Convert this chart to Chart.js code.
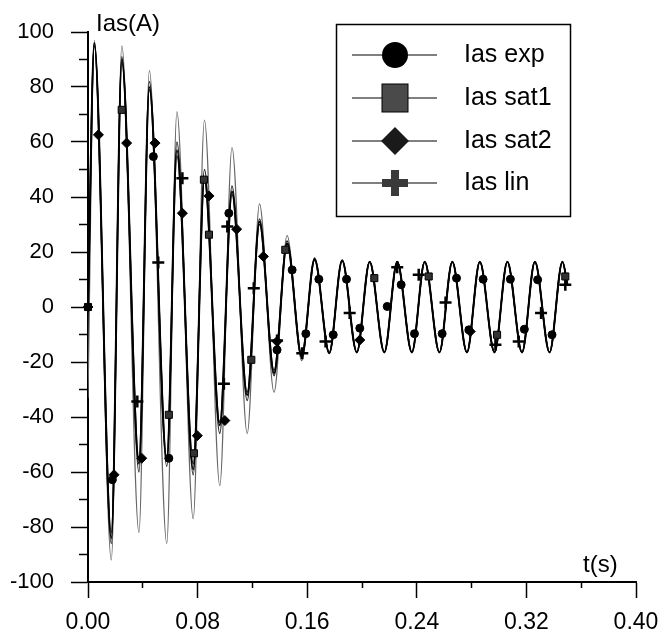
<!DOCTYPE html>
<html>
<head>
<meta charset="utf-8">
<title>Ias(A)</title>
<script src="https://cdn.jsdelivr.net/npm/chart.js@4.4.1/dist/chart.umd.min.js"></script>
<style>
  html, body { margin: 0; padding: 0; background: #fff; }
  #wrap { width: 661px; height: 635px; }
</style>
</head>
<body>
<div id="wrap"><canvas id="iasChart" width="661" height="635"></canvas></div>
<script>
// turning points of the traces (s), start, peaks and troughs, end
const tCurve = [0, 0.0046, 0.0170, 0.0247, 0.0372, 0.0448, 0.0575, 0.0649, 0.0768, 0.0850,
  0.0962, 0.1051, 0.1162, 0.1252, 0.1358, 0.1453, 0.1560, 0.1654, 0.1761, 0.1855,
  0.1962, 0.2056, 0.2163, 0.2257, 0.2364, 0.2458, 0.2565, 0.2659, 0.2766, 0.2860,
  0.2967, 0.3061, 0.3168, 0.3262, 0.3369, 0.3463, 0.3500];

const iasExp  = [0, 96, -84, 90, -57, 80, -56, 57, -59, 47, -43, 42, -32, 31, -24, 23, -18, 17.5, -16.8, 17,
  -16.5, 16.5, -16.5, 16.5, -16.5, 16.5, -16.5, 16.5, -16.5, 16.5, -16.5, 16.5, -16.5, 16.5, -16.5, 16.5, 8];
const iasSat1 = [0, 96, -86, 91, -60, 82, -58, 60, -61, 50, -46, 44, -34, 32, -25, 24, -18.5, 17.5, -16.8, 17,
  -16.5, 16.5, -16.5, 16.5, -16.5, 16.5, -16.5, 16.5, -16.5, 16.5, -16.5, 16.5, -16.5, 16.5, -16.5, 16.5, 8];
const iasSat2 = [0, 95, -82, 89, -55, 79, -55, 55, -57, 46, -42, 41, -31, 30, -23, 23, -17.5, 17, -16.5, 16.8,
  -16.5, 16.5, -16.5, 16.5, -16.5, 16.5, -16.5, 16.5, -16.5, 16.5, -16.5, 16.5, -16.5, 16.5, -16.5, 16.5, 8];
const iasLin  = [-33, 97, -92, 95, -82, 86, -86, 71, -77, 68, -65, 58, -46, 37.5, -31, 26, -19.5, 18, -17, 17,
  -16.5, 16.5, -16.5, 16.5, -16.5, 16.5, -16.5, 16.5, -16.5, 16.5, -16.5, 16.5, -16.5, 16.5, -16.5, 16.5, 8];

// symbols
const expMarkT = [0, 0.0178, 0.0477, 0.0590, 0.1028, 0.1380, 0.1490, 0.1590, 0.1685, 0.1790, 0.1887, 0.1984,
  0.2184, 0.2286, 0.2383, 0.2585, 0.2690, 0.2780, 0.2884, 0.3083, 0.3185, 0.3282, 0.3387];
const expMarkV = [0, -62.8, 54.7, -55, 34.1, -15.6, 13.5, -9.7, 10.1, -10.1, 10.1, -7.7,
  0.2, 8.1, -9.7, -9.7, 10.5, -8.3, 10.1, 10.1, -8.1, 9.9, -10.1];
const sat1MarkT = [0, 0.0246, 0.0590, 0.0773, 0.0846, 0.0883, 0.1192, 0.1440, 0.2090, 0.2487, 0.2986, 0.3484];
const sat1MarkV = [0, 71.7, -39.2, -53.2, 46.3, 26.3, -19.2, 20.8, 10.5, 11.1, -10.1, 11.1];
const sat2MarkT = [0, 0.0076, 0.0190, 0.0282, 0.0392, 0.0489, 0.0689, 0.0798, 0.0883, 0.0999, 0.1085,
  0.1280, 0.1380, 0.1984, 0.2790];
const sat2MarkV = [0, 62.6, -61, 59.6, -55, 59.6, 34.1, -46.8, 40.4, -41.3, 28.3,
  18.4, -12.5, -12, -8.9];
const linMarkT = [0.0360, 0.0513, 0.0689, 0.0992, 0.1017, 0.1210, 0.1380, 0.1564, 0.1734, 0.1910,
  0.2257, 0.2414, 0.2610, 0.2974, 0.3144, 0.3307, 0.3484];
const linMarkV = [-34.4, 16.2, 46.8, -27.9, 29.3, 6.8, -12.2, -16.8, -12.5, -2.2,
  14.5, 11.7, 1.6, -13.7, -12.5, -2.2, 8.1];

const seriesNames = ["Ias exp", "Ias sat1", "Ias sat2", "Ias lin"];
const xTickLabels = ["0.00", "0.08", "0.16", "0.24", "0.32", "0.40"];
const yTickLabels = ["-100", "-80", "-60", "-40", "-20", "0", "20", "40", "60", "80", "100"];

const FONT = "'Liberation Sans', Arial, sans-serif";
Chart.defaults.font.family = FONT;
Chart.defaults.color = "#000";

function pairs(ts, vs) {
  return ts.map((t, i) => ({ x: t, y: vs[i] }));
}

function curve(vals, color, width, order) {
  return {
    data: pairs(tCurve, vals),
    borderColor: color,
    borderWidth: width,
    pointRadius: 0,
    cubicInterpolationMode: "monotone",
    fill: false,
    order: order
  };
}

function marks(ts, vs, style, radius, fillColor, bw) {
  return {
    data: pairs(ts, vs),
    showLine: false,
    pointStyle: style,
    pointRadius: radius,
    pointBackgroundColor: fillColor,
    pointBorderColor: "#000",
    pointBorderWidth: bw,
    clip: false,
    order: 0
  };
}

// legend box and the two axis captions
const annotate = {
  id: "annotate",
  afterDraw(chart) {
    const ctx = chart.ctx;
    const area = chart.chartArea;
    ctx.save();
    ctx.fillStyle = "#000";
    ctx.font = "24px " + FONT;
    ctx.textBaseline = "alphabetic";
    ctx.fillText("Ias(A)", area.left + 8, area.top - 1);
    ctx.fillText("t(s)", area.right - 53, area.bottom - 10);

    ctx.strokeStyle = "#000";
    ctx.lineWidth = 1.5;
    ctx.strokeRect(336.5, 24.5, 234, 192);

    const rowY = [55, 98, 141, 183];
    const mx = 395;
    for (let i = 0; i < 4; i++) {
      const y = rowY[i];
      ctx.lineWidth = 1;
      ctx.strokeStyle = "#000";
      ctx.beginPath();
      ctx.moveTo(352, y);
      ctx.lineTo(437, y);
      ctx.stroke();
      ctx.beginPath();
      if (i === 0) {
        ctx.fillStyle = "#000";
        ctx.arc(mx, y, 13, 0, Math.PI * 2);
        ctx.fill();
      } else if (i === 1) {
        ctx.fillStyle = "#4a4a4a";
        ctx.fillRect(mx - 13, y - 14, 26, 28);
        ctx.strokeRect(mx - 13, y - 14, 26, 28);
      } else if (i === 2) {
        ctx.fillStyle = "#1a1a1a";
        ctx.moveTo(mx, y - 14);
        ctx.lineTo(mx + 14, y);
        ctx.lineTo(mx, y + 14);
        ctx.lineTo(mx - 14, y);
        ctx.closePath();
        ctx.fill();
      } else {
        ctx.fillStyle = "#3a3a3a";
        ctx.fillRect(mx - 4, y - 13, 8, 26);
        ctx.fillRect(mx - 13, y - 4, 26, 8);
      }
      ctx.fillStyle = "#000";
      ctx.font = "25px " + FONT;
      ctx.textBaseline = "middle";
      ctx.fillText(seriesNames[i], 464, y);
    }
    ctx.restore();
  }
};

new Chart(document.getElementById("iasChart").getContext("2d"), {
  type: "line",
  data: {
    datasets: [
      marks(expMarkT, expMarkV, "circle", 4, "#000", 1),
      marks(sat1MarkT, sat1MarkV, "rect", 5, "#333", 1),
      marks(sat2MarkT, sat2MarkV, "rectRot", 5, "#000", 1),
      marks(linMarkT, linMarkV, "cross", 6, "#000", 2.5),
      curve(iasExp, "#000", 2, 1),
      curve(iasSat1, "#222", 1.5, 1),
      curve(iasSat2, "#111", 1.5, 1),
      curve(iasLin, "#666", 1.2, 2)
    ]
  },
  options: {
    responsive: false,
    maintainAspectRatio: false,
    animation: false,
    events: [],
    layout: { padding: { left: 0, top: 32, right: 25, bottom: 0 } },
    plugins: {
      legend: { display: false },
      title: { display: false },
      tooltip: { enabled: false }
    },
    scales: {
      x: {
        type: "linear",
        min: 0,
        max: 0.4,
        border: { display: true, color: "#000", width: 2 },
        grid: {
          drawOnChartArea: false,
          drawTicks: true,
          tickLength: 16,
          tickWidth: 1.5,
          tickColor: "#000",
          tickBorderDash: (c) => (c.index % 2 === 0 ? [] : [5, 100])
        },
        ticks: {
          stepSize: 0.04,
          autoSkip: false,
          maxRotation: 0,
          padding: 11,
          font: { size: 23 },
          callback: (v, i) => (i % 2 === 0 ? xTickLabels[i / 2] : "")
        },
        afterFit(s) {
          s.height = 53;
          s.paddingLeft = 0;
          s.paddingRight = 0;
        }
      },
      y: {
        type: "linear",
        min: -100,
        max: 100,
        border: { display: true, color: "#000", width: 2 },
        grid: {
          drawOnChartArea: false,
          drawTicks: true,
          tickLength: 17,
          tickWidth: 1.5,
          tickColor: "#000",
          tickBorderDash: (c) => (c.index % 2 === 0 ? [] : [0, 8, 10, 100])
        },
        ticks: {
          stepSize: 10,
          autoSkip: false,
          padding: 17,
          font: { size: 22 },
          callback: (v, i) => (i % 2 === 0 ? yTickLabels[i / 2] : "")
        },
        afterFit(s) {
          s.width = 88;
          s.paddingTop = 0;
          s.paddingBottom = 0;
        }
      }
    }
  },
  plugins: [annotate]
});
</script>
</body>
</html>
